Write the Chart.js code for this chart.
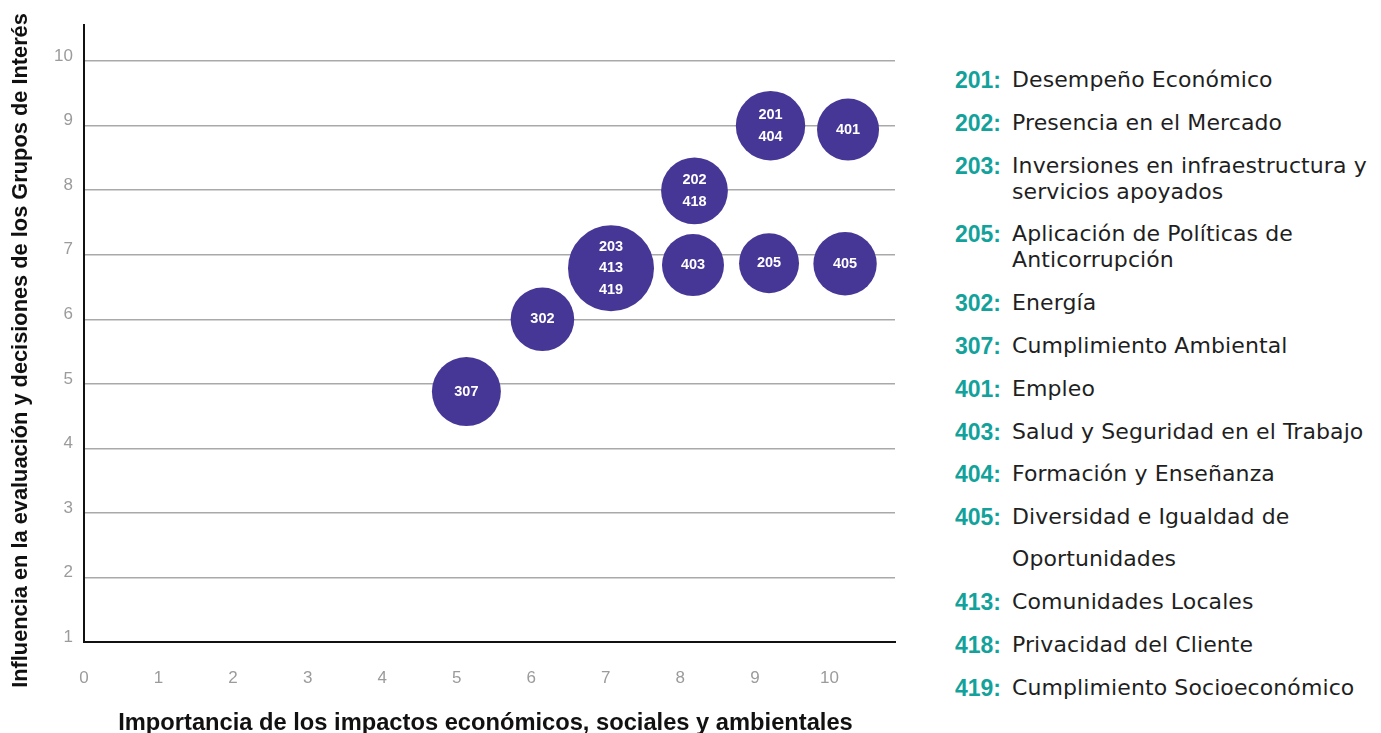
<!DOCTYPE html>
<html lang="es">
<head>
<meta charset="utf-8">
<title>Matriz de materialidad</title>
<script src="https://cdn.jsdelivr.net/npm/chart.js@4.4.1/dist/chart.umd.min.js"></script>
<style>
  html, body { margin: 0; padding: 0; background: #fff; }
  body { width: 1381px; height: 733px; position: relative; overflow: hidden; }
  #marco { position: absolute; left: 0; top: 0; width: 900px; height: 733px; }
  #leyenda {
    position: absolute; left: 955px; top: 67px;
    font-family: "DejaVu Sans", "Liberation Sans", Arial, sans-serif;
    font-size: 22px; letter-spacing: 0.1px; color: #1f1f1f; line-height: 26px;
  }
  #leyenda .item { display: flex; margin-bottom: 16.8px; white-space: nowrap; }
  #leyenda .item.corte { margin-bottom: 16px; }
  #leyenda .num {
    flex: none; width: 57px; color: #13a29b; font-weight: 700; letter-spacing: 0;
    font-family: "Liberation Sans", Arial, sans-serif; font-size: 23px;
  }
</style>
</head>
<body>
<div id="marco"><canvas id="matriz"></canvas></div>
<div id="leyenda"></div>
<script>
// Temas materiales agrupados por burbuja
const codigos = [['307'], ['302'], ['203', '413', '419'], ['403'], ['202', '418'], ['205'], ['201', '404'], ['405'], ['401']];
const importancia = [5.13, 6.15, 7.07, 8.17, 8.19, 9.19, 9.21, 10.21, 10.25];
const influencia = [4.88, 6.0, 6.79, 6.84, 7.99, 6.87, 9.0, 6.86, 8.94];
const tamano = [34.5, 31.8, 43, 31, 33.4, 30, 34.7, 31.7, 31];

const ticksX = [0, 1, 2, 3, 4, 5, 6, 7, 8, 9, 10];
const ticksY = [1, 2, 3, 4, 5, 6, 7, 8, 9, 10];

const tituloX = 'Importancia de los impactos económicos, sociales y ambientales';
const tituloY = 'Influencia en la evaluación y decisiones de los Grupos de Interés';

// Leyenda: código y descripción (las descripciones largas van en varias líneas)
const leyendaCodigos = ['201', '202', '203', '205', '302', '307', '401', '403', '404', '405', '', '413', '418', '419'];
const leyendaTextos = [
  'Desempeño Económico',
  'Presencia en el Mercado',
  'Inversiones en infraestructura y<br>servicios apoyados',
  'Aplicación de Políticas de<br>Anticorrupción',
  'Energía',
  'Cumplimiento Ambiental',
  'Empleo',
  'Salud y Seguridad en el Trabajo',
  'Formación y Enseñanza',
  'Diversidad e Igualdad de',
  'Oportunidades',
  'Comunidades Locales',
  'Privacidad del Cliente',
  'Cumplimiento Socioeconómico'
];

const MORADO = '#463797';
const GRIS_REJILLA = '#a9a9a9';
const GRIS_TEXTO = '#9b9b9b';
const FUENTE = '"Liberation Sans", Arial, sans-serif';

const leyenda = document.getElementById('leyenda');
leyendaCodigos.forEach((cod, i) => {
  const item = document.createElement('div');
  item.className = 'item' + (leyendaCodigos[i + 1] === '' ? ' corte' : '');
  item.innerHTML = '<span class="num">' + (cod ? cod + ':' : '') + '</span><span>' + leyendaTextos[i] + '</span>';
  leyenda.appendChild(item);
});

// Números de cada burbuja, centrados en el círculo
const etiquetasBurbuja = {
  id: 'etiquetasBurbuja',
  afterDatasetsDraw(chart) {
    const ctx = chart.ctx;
    const meta = chart.getDatasetMeta(0);
    ctx.save();
    ctx.fillStyle = '#ffffff';
    ctx.font = 'bold 14.5px ' + FUENTE;
    ctx.textAlign = 'center';
    ctx.textBaseline = 'middle';
    meta.data.forEach((pt, i) => {
      const lineas = codigos[i];
      lineas.forEach((txt, j) => {
        ctx.fillText(txt, pt.x, pt.y + (j - (lineas.length - 1) / 2) * 21.7);
      });
    });
    ctx.restore();
  }
};

// Títulos de los ejes
const titulosEjes = {
  id: 'titulosEjes',
  afterDraw(chart) {
    const ctx = chart.ctx;
    const area = chart.chartArea;
    ctx.save();
    ctx.fillStyle = '#111111';
    ctx.font = 'bold 23.7px ' + FUENTE;
    ctx.textAlign = 'center';
    ctx.textBaseline = 'alphabetic';
    ctx.fillText(tituloX, (area.left + area.right) / 2 - 4, 730);

    ctx.font = 'bold 21.8px ' + FUENTE;
    ctx.translate(27, (area.top + area.bottom) / 2 + 17);
    ctx.rotate(-Math.PI / 2);
    ctx.fillText(tituloY, 0, 0);
    ctx.restore();
  }
};

const datos = importancia.map((x, i) => ({ x: x, y: influencia[i], r: tamano[i] }));

new Chart(document.getElementById('matriz'), {
  type: 'bubble',
  data: {
    datasets: [{
      data: datos,
      backgroundColor: MORADO,
      hoverBackgroundColor: MORADO,
      borderWidth: 0,
      hoverBorderWidth: 0,
      hoverRadius: 0,
      clip: false
    }]
  },
  options: {
    responsive: true,
    maintainAspectRatio: false,
    animation: false,
    events: [],
    layout: { autoPadding: false, padding: { top: 25, right: 5, left: 0, bottom: 0 } },
    plugins: {
      legend: { display: false },
      tooltip: { enabled: false }
    },
    scales: {
      x: {
        type: 'linear',
        min: 0,
        max: 10.88,
        afterBuildTicks: s => { s.ticks = ticksX.map(v => ({ value: v })); },
        afterFit: s => { s.height = 91; },
        grid: { display: false },
        border: { display: true, color: '#111111', width: 2 },
        ticks: {
          color: GRIS_TEXTO,
          font: { family: FUENTE, size: 17 },
          padding: 18,
          maxRotation: 0
        }
      },
      y: {
        type: 'linear',
        min: 1,
        max: 10.56,
        afterBuildTicks: s => { s.ticks = ticksY.map(v => ({ value: v })); },
        afterFit: s => { s.width = 84; },
        grid: {
          color: ctx => (ctx.tick && ctx.tick.value === 1 ? 'rgba(0,0,0,0)' : GRIS_REJILLA),
          lineWidth: 1.5,
          drawTicks: false
        },
        border: { display: true, color: '#111111', width: 2 },
        ticks: {
          color: GRIS_TEXTO,
          font: { family: FUENTE, size: 17 },
          padding: 11,
          labelOffset: -5
        }
      }
    }
  },
  plugins: [etiquetasBurbuja, titulosEjes]
});
</script>
</body>
</html>
